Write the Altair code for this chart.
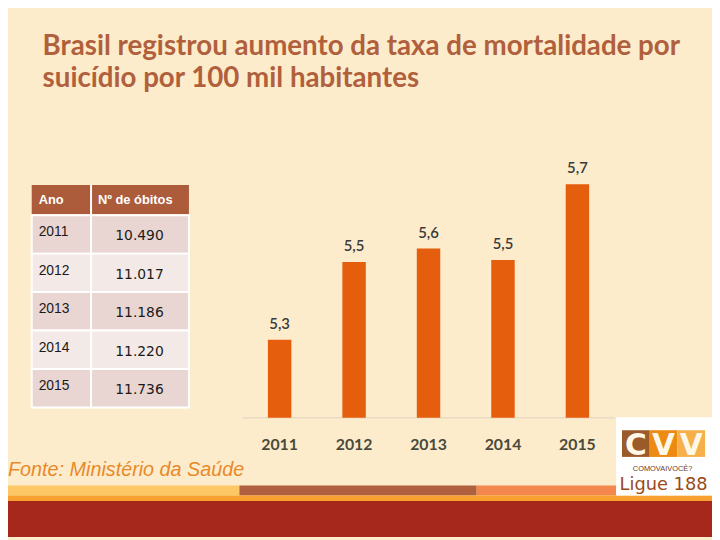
import altair as alt
import pandas as pd

# ---------------- data ----------------
years = ["2011", "2012", "2013", "2014", "2015"]
obitos = ["10.490", "11.017", "11.186", "11.220", "11.736"]
taxa = [5.30, 5.50, 5.535, 5.505, 5.70]          # bar heights
taxa_labels = ["5,3", "5,5", "5,6", "5,5", "5,7"]  # printed labels
title_lines = ["Brasil registrou aumento da taxa de mortalidade por",
               "suicídio por 100 mil habitantes"]
table_header = ["Ano", "Nº de óbitos"]
source_text = "Fonte: Ministério da Saúde"
logo_letters = ["C", "V", "V"]
logo_small = "COMOVAIVOCÊ?"
logo_phone = "Ligue 188"

# ---------------- styles ----------------
BG = "#fdeccb"
TITLE_C = "#b0603c"
BAR_C = "#e55e0e"
TFONT = "Lato"

W, H = 712, 532
one = pd.DataFrame({"k": [0]})

bar_df = pd.DataFrame({"ano": years, "taxa": taxa, "rotulo": taxa_labels})
tab_df = pd.DataFrame({"ano": years, "obitos": obitos,
                       "faixa": ["escura" if i % 2 == 0 else "clara" for i in range(len(years))]})

# ---------------- bar chart ----------------
xs = alt.Scale(type="band", domain=years, range=[237.05, 613.55],
               paddingInner=0.685, paddingOuter=0.3425)
ys = alt.Scale(domain=[5.1, 5.8], range=[411.3, 135.85])
X = alt.X("ano:N", scale=xs, axis=None)
Y = alt.Y("taxa:Q", scale=ys, axis=None)

axis_line = alt.Chart(one).mark_rule(color="#ddd2bf", strokeWidth=1).encode(
    x=alt.value(237), x2=alt.value(614), y=alt.value(411.5))
bars = alt.Chart(bar_df).mark_bar(color=BAR_C).encode(x=X, y=Y, y2=alt.datum(5.1))
bar_labels = alt.Chart(bar_df).mark_text(
    font=TFONT, fontSize=15, fontWeight=600, color="#3a3a3a",
    baseline="alphabetic", dy=-11).encode(x=X, y=Y, text="rotulo:N")
year_labels = alt.Chart(bar_df).mark_text(
    font=TFONT, fontSize=16, fontWeight="bold", color="#4a4a3c",
    baseline="alphabetic").encode(x=X, y=alt.value(443.7), text="ano:N")

# ---------------- table ----------------
ts = alt.Scale(type="band", domain=years, range=[206.5, 401], paddingInner=0, paddingOuter=0)
TY = alt.Y("ano:N", scale=ts, axis=None)
tab_rows = alt.Chart(tab_df).mark_rect(stroke="white", strokeWidth=2).encode(
    y=TY, x=alt.value(24), x2=alt.value(183),
    color=alt.Color("faixa:N", legend=None,
                    scale=alt.Scale(domain=["escura", "clara"], range=["#e9d5d1", "#f3e9e6"])))
tab_head = alt.Chart(one).mark_rect(color="#ad5c3b").encode(
    x=alt.value(24), x2=alt.value(183), y=alt.value(176), y2=alt.value(205.5))
tab_div = alt.Chart(one).mark_rule(color="white", strokeWidth=2).encode(
    x=alt.value(84), y=alt.value(176), y2=alt.value(401))
head_df = pd.DataFrame({"h": table_header, "pos": ["a", "b"]})
tab_head_txt = alt.Chart(head_df).mark_text(
    font="Liberation Sans", fontSize=13, fontWeight="bold", color="white",
    align="left", baseline="middle").encode(
    x=alt.X("pos:N", scale=alt.Scale(type="point", domain=["a", "b"], range=[31, 91], padding=0),
            axis=None),
    y=alt.value(191), text="h:N")
tab_years = alt.Chart(tab_df).mark_text(
    font="Liberation Sans", fontSize=14, color="#1a1a1a", align="left",
    baseline="middle", dy=-2).encode(y=TY, x=alt.value(31), text="ano:N")
tab_vals = alt.Chart(tab_df).mark_text(
    font="DejaVu Sans", fontSize=14, color="#1a1a1a", align="center",
    baseline="middle", dy=2).encode(y=TY, x=alt.value(133), text="obitos:N")

# ---------------- title & source ----------------
title_df = pd.DataFrame({"t": title_lines, "line": ["1", "2"]})
title = alt.Chart(title_df).mark_text(
    font=TFONT, fontSize=28, fontWeight="bold", color=TITLE_C,
    align="left", baseline="alphabetic").encode(
    x=alt.value(35),
    y=alt.Y("line:N", scale=alt.Scale(type="point", domain=["1", "2"], range=[45, 77], padding=0),
            axis=None),
    text="t:N")
source = alt.Chart(pd.DataFrame({"s": [source_text]})).mark_text(
    font="Liberation Sans", fontSize=20, fontStyle="italic", color="#e8892a",
    align="left", baseline="alphabetic").encode(x=alt.value(0), y=alt.value(470), text="s:N")

# ---------------- bottom bands ----------------
def band(x1, x2, y1, y2, c):
    return alt.Chart(one).mark_rect(color=c).encode(
        x=alt.value(x1), x2=alt.value(x2), y=alt.value(y1), y2=alt.value(y2))

bands = [
    band(0, 234, 480, 490, "#fdc766"),
    band(234, 474, 480, 490, "#b0603e"),
    band(474, 616, 480, 490, "#f4874e"),
    band(0, W, 490, 495.5, "#f8a030"),
    band(0, W, 495.5, H, "#a6281c"),
]

# ---------------- logo ----------------
logo_bg = band(615, W, 411, 490, "#ffffff")
logo_df = pd.DataFrame({"l": logo_letters, "pos": ["c", "v1", "v2"]})
lx = alt.X("pos:N", scale=alt.Scale(type="band", domain=["c", "v1", "v2"], range=[621, 705],
                                    paddingInner=0, paddingOuter=0), axis=None)
logo_boxes = alt.Chart(logo_df).mark_rect().encode(
    x=lx, y=alt.value(424), y2=alt.value(451),
    color=alt.Color("pos:N", legend=None,
                    scale=alt.Scale(domain=["c", "v1", "v2"], range=["#9b5a2a", "#ec8a12", "#f5b04a"])))
logo_letters_mk = alt.Chart(logo_df).mark_text(
    font="DejaVu Sans", fontSize=30, fontWeight="bold", color="#fff7e8",
    baseline="alphabetic").encode(x=lx, y=alt.value(449), text="l:N")
logo_small_mk = alt.Chart(pd.DataFrame({"s": [logo_small]})).mark_text(
    font="Liberation Sans", fontSize=7.5, color="#6b3a1a", baseline="alphabetic").encode(
    x=alt.value(662), y=alt.value(465), text="s:N")
logo_phone_mk = alt.Chart(pd.DataFrame({"s": [logo_phone]})).mark_text(
    font="DejaVu Sans", fontSize=18, color="#9a4a1c", baseline="alphabetic").encode(
    x=alt.value(663), y=alt.value(484), text="s:N")

chart = alt.layer(
    *bands, axis_line, bars, bar_labels, year_labels,
    tab_head, tab_rows, tab_div, tab_head_txt, tab_years, tab_vals,
    title, source,
    logo_bg, logo_boxes, logo_letters_mk, logo_small_mk, logo_phone_mk,
).resolve_scale(x="independent", y="independent", color="independent").properties(
    width=W, height=H, padding=0,
    autosize=alt.AutoSizeParams(type="fit", contains="padding"),
    background=BG,
).configure_view(stroke=None)

chart.save("out.html", embed_options={"renderer": "svg", "actions": False})
